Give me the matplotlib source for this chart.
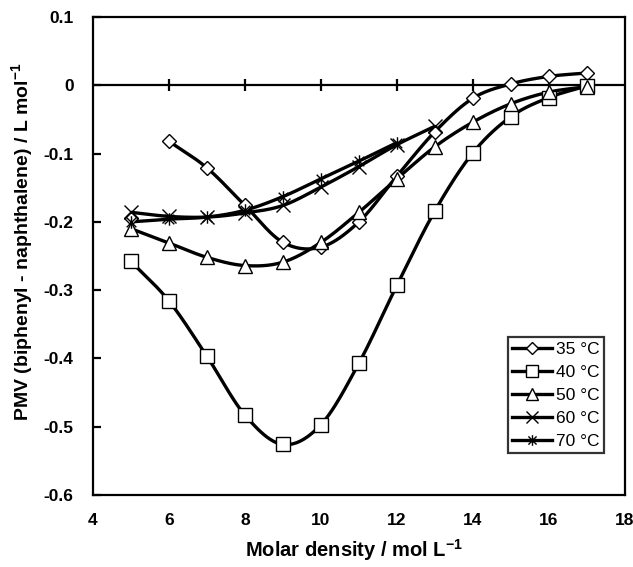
import numpy as np
import matplotlib
matplotlib.use("Agg")
import matplotlib.pyplot as plt
from matplotlib.path import Path

plt.rcParams['font.family'] = ['Liberation Sans', 'DejaVu Sans']
plt.rcParams['axes.unicode_minus'] = False
plt.rcParams['mathtext.fontset'] = 'custom'
plt.rcParams['mathtext.rm'] = 'Liberation Sans'
plt.rcParams['mathtext.bf'] = 'Liberation Sans:bold'

# data
density = [5, 6, 7, 8, 9, 10, 11, 12, 13, 14, 15, 16, 17]
pmv_35 = [-0.195, -0.082, -0.121, -0.176, -0.230, -0.237, -0.200, -0.133, -0.068, -0.019, 0.002, 0.013, 0.018]
pmv_40 = [-0.258, -0.316, -0.397, -0.483, -0.526, -0.497, -0.407, -0.293, -0.184, -0.099, -0.046, -0.018, -0.001]
pmv_50 = [-0.210, -0.231, -0.252, -0.264, -0.259, -0.230, -0.186, -0.137, -0.090, -0.054, -0.027, -0.010, -0.002]
pmv_60 = [-0.186, -0.192, -0.193, -0.187, -0.176, -0.149, -0.119, -0.087, -0.060]
pmv_70 = [-0.200, -0.196, -0.193, -0.183, -0.163, -0.137, -0.111, -0.084]
labels = ['35 °C', '40 °C', '50 °C', '60 °C', '70 °C']

x_ticks = [4, 6, 8, 10, 12, 14, 16, 18]
y_ticks = [-0.6, -0.5, -0.4, -0.3, -0.2, -0.1, 0, 0.1]

# asterisk = X plus a vertical bar
star = Path([(-1, -1), (1, 1), (-1, 1), (1, -1), (0, -1.3), (0, 1.3)],
            [Path.MOVETO, Path.LINETO, Path.MOVETO, Path.LINETO, Path.MOVETO, Path.LINETO])


def smooth(x, y, n=24):
    # catmull-rom curve through the points (like the spreadsheet smoothed line)
    x = np.asarray(x, float)
    y = np.asarray(y, float)
    px = np.concatenate([[2 * x[0] - x[1]], x, [2 * x[-1] - x[-2]]])
    py = np.concatenate([[2 * y[0] - y[1]], y, [2 * y[-1] - y[-2]]])
    t = np.linspace(0, 1, n, endpoint=False)
    xs, ys = [], []
    for i in range(1, len(px) - 2):
        for p, out in ((px, xs), (py, ys)):
            p0, p1, p2, p3 = p[i - 1], p[i], p[i + 1], p[i + 2]
            out.extend(0.5 * (2 * p1 + (-p0 + p2) * t + (2 * p0 - 5 * p1 + 4 * p2 - p3) * t ** 2
                              + (-p0 + 3 * p1 - 3 * p2 + p3) * t ** 3))
    xs.append(x[-1])
    ys.append(y[-1])
    return xs, ys


fig = plt.figure(figsize=(6.33, 5.67), dpi=100)
ax = fig.add_axes([0.147, 0.127, 0.840, 0.843])

lw = 2.4
series = [
    (density, pmv_35, 'D', 7.5, labels[0], 1),
    (density, pmv_40, 's', 9.5, labels[1], 0),
    (density, pmv_50, '^', 10, labels[2], 0),
    (density[:len(pmv_60)], pmv_60, 'x', 10, labels[3], 0),
    (density[:len(pmv_70)], pmv_70, star, 9, labels[4], 0),
]
for xs, ys, mk, ms, lab, start in series:
    sx, sy = smooth(xs[start:], ys[start:])
    ax.plot(sx, sy, color='black', lw=lw, zorder=2, solid_capstyle='butt')
    ax.plot(xs, ys, linestyle='none', marker=mk, ms=ms, mfc='white', mec='black',
            mew=1.0, zorder=3)
    ax.plot([], [], color='black', lw=lw, marker=mk, ms=ms * 0.85, mfc='white',
            mec='black', mew=1.0, label=lab)

ax.set_xlim(4, 18)
ax.set_ylim(-0.6, 0.1)
ax.axhline(0, color='black', lw=1.6, zorder=1)
# x ticks sit on the zero line
ax.plot(x_ticks[1:-1], [0] * (len(x_ticks) - 2), linestyle='none', marker='|',
        ms=9, mew=1.6, color='black', zorder=1)

ax.set_xticks(x_ticks)
ax.set_xticklabels([str(v) for v in x_ticks])
ax.set_yticks(y_ticks)
ax.set_yticklabels(['%g' % v for v in y_ticks])
ax.tick_params(axis='x', length=0, pad=13, labelsize=12.5)
ax.tick_params(axis='y', direction='in', length=6, width=1.6, pad=14, labelsize=12.5)
for lab in ax.get_xticklabels() + ax.get_yticklabels():
    lab.set_fontweight('bold')
for sp in ax.spines.values():
    sp.set_linewidth(1.6)

xl = ax.set_xlabel('Molar density / mol L$^{\\mathbf{-1}}$', fontsize=14.5, fontweight='bold')
xl.set_va('center')
ax.xaxis.set_label_coords(0.49, -0.116)
yl = ax.set_ylabel('PMV (biphenyl - naphthalene) / L mol$^{\\mathbf{-1}}$', fontsize=14,
                   fontweight='bold')
yl.set_va('center')
ax.yaxis.set_label_coords(-0.133, 0.53)

leg = ax.legend(loc='upper left', bbox_to_anchor=(0.78, 0.33), fontsize=12.5,
                frameon=True, fancybox=False, edgecolor='black', handlelength=2.3,
                handletextpad=0.2, borderpad=0.25, labelspacing=0.45, borderaxespad=0)
leg.get_frame().set_linewidth(1.6)

fig.savefig('out.png', dpi=100)
